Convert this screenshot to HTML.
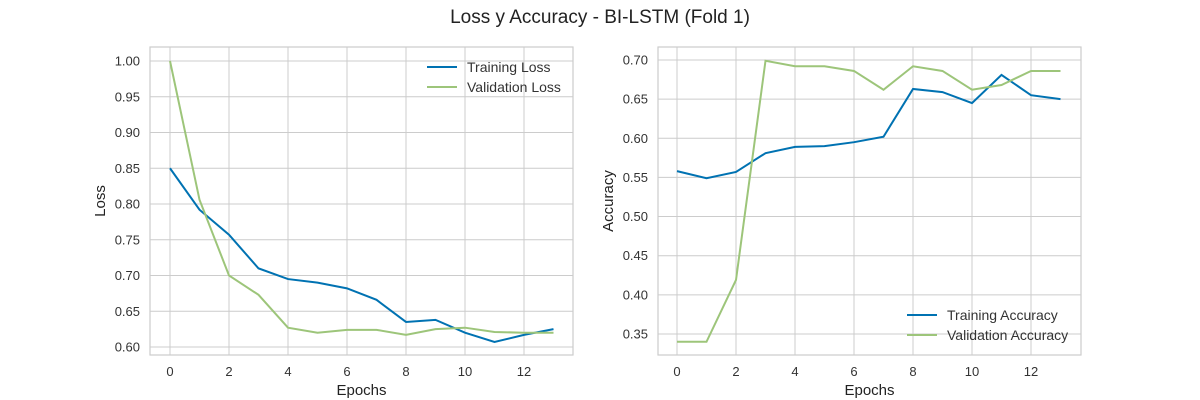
<!DOCTYPE html>
<html><head><meta charset="utf-8"><style>
body{margin:0;background:#fff;}
svg{display:block;font-family:"Liberation Sans",sans-serif;}
</style></head><body>
<svg id="c" width="1200" height="400">
<text x="600" y="23" text-anchor="middle" font-size="19" fill="#222">Loss y Accuracy - BI-LSTM (Fold 1)</text>
</svg>
<script>
const epochs=[0,1,2,3,4,5,6,7,8,9,10,11,12,13];
const trainLoss=[0.85,0.792,0.757,0.710,0.695,0.690,0.682,0.666,0.635,0.638,0.620,0.607,0.617,0.625];
const valLoss=[1.00,0.806,0.700,0.673,0.627,0.620,0.624,0.624,0.617,0.625,0.627,0.621,0.620,0.620];
const trainAcc=[0.558,0.549,0.557,0.581,0.589,0.590,0.595,0.602,0.663,0.659,0.645,0.681,0.655,0.650];
const valAcc=[0.340,0.340,0.419,0.699,0.692,0.692,0.686,0.662,0.692,0.686,0.662,0.668,0.686,0.686];
const xTicks=[0,2,4,6,8,10,12];
const lossTicks=[0.60,0.65,0.70,0.75,0.80,0.85,0.90,0.95,1.00];
const accTicks=[0.35,0.40,0.45,0.50,0.55,0.60,0.65,0.70];
const NS="http://www.w3.org/2000/svg",svg=document.getElementById('c');
function mk(t,a,p){const e=document.createElementNS(NS,t);for(const k in a)e.setAttribute(k,a[k]);(p||svg).appendChild(e);return e;}
function panel(o){
 const g=mk('g',{});
 
 
 const L=o.left,R=o.left+423,T=47,B=355;
 const xs=v=>o.x0+v*29.5;
 const ys=v=>o.y0+(o.v0-v)*o.k;
 mk('rect',{x:L,y:T,width:R-L,height:B-T,fill:'#fff',stroke:'#ccc','stroke-width':1.2},g);
 xTicks.forEach(t=>{mk('line',{x1:xs(t),x2:xs(t),y1:T,y2:B,stroke:'#ccc','stroke-width':1},g);
  const tx=mk('text',{x:xs(t),y:B+21,'text-anchor':'middle','font-size':13,fill:'#333'},g);tx.textContent=t;
  });
 o.yt.forEach(t=>{mk('line',{x1:L,x2:R,y1:ys(t),y2:ys(t),stroke:'#ccc','stroke-width':1},g);
  const tx=mk('text',{x:L-10,y:ys(t)+4.5,'text-anchor':'end','font-size':13,fill:'#333'},g);tx.textContent=t.toFixed(2);
  });
 const xl=mk('text',{x:(L+R)/2,y:395,'text-anchor':'middle','font-size':15,fill:'#222'},g);xl.textContent='Epochs';
 
 const yx=L-45,yy=(T+B)/2;
 const yl=mk('text',{x:yx,y:yy,'text-anchor':'middle','font-size':15,fill:'#222',transform:`rotate(-90 ${yx} ${yy})`},g);yl.textContent=o.ylab;
 
 o.series.forEach(s=>{const p=mk('polyline',{points:s.d.map((v,i)=>xs(epochs[i])+','+ys(v)).join(' '),fill:'none',stroke:s.c,'stroke-width':2},g);
  });
 o.series.forEach((s,i)=>{const ly=o.ly+i*20;
  mk('line',{x1:o.lx,x2:o.lx+30,y1:ly,y2:ly,stroke:s.c,'stroke-width':2},g);
  const t=mk('text',{x:o.lx+40,y:ly+5,'font-size':14,fill:'#333'},g);t.textContent=s.label;
  });
}
panel({name:'loss-chart',left:150,x0:170,y0:61,v0:1.00,k:715,yt:lossTicks,ylab:'Loss',lx:427,ly:67,
 series:[{d:trainLoss,c:'#0072b2',n:'training-loss-line',label:'Training Loss'},{d:valLoss,c:'#9dc57a',n:'validation-loss-line',label:'Validation Loss'}]});
panel({name:'accuracy-chart',left:658,x0:677,y0:60,v0:0.70,k:782.8,yt:accTicks,ylab:'Accuracy',lx:907,ly:315,
 series:[{d:trainAcc,c:'#0072b2',n:'training-accuracy-line',label:'Training Accuracy'},{d:valAcc,c:'#9dc57a',n:'validation-accuracy-line',label:'Validation Accuracy'}]});
</script>
</body></html>
